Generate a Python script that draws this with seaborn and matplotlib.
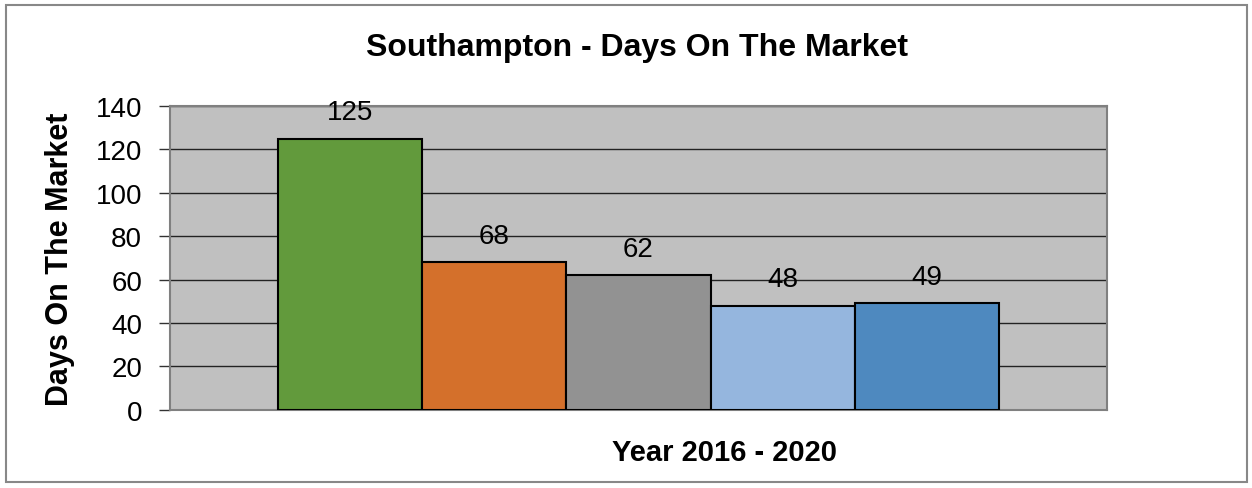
import matplotlib
matplotlib.use("Agg")
import matplotlib.pyplot as plt
import seaborn as sns
from matplotlib.patches import Rectangle

years = ["2016", "2017", "2018", "2019", "2020"]
days = [125, 68, 62, 48, 49]
colors = ["#629A3C", "#D4702B", "#929292", "#95B6DE", "#4E89BF"]
yticks = [0, 20, 40, 60, 80, 100, 120, 140]

sns.set_style("white")
plt.rcParams["font.family"] = ["Liberation Sans", "DejaVu Sans"]
plt.rcParams["text.color"] = "black"
plt.rcParams["axes.labelcolor"] = "black"
plt.rcParams["ytick.color"] = "black"

fig = plt.figure(figsize=(12.52, 4.89), dpi=100)
ax = fig.add_axes([170 / 1252, 1 - 410.7 / 489, 937 / 1252, 303.7 / 489])

sns.barplot(x=years, y=days, hue=years, palette=colors, width=1, saturation=1,
            legend=False, edgecolor="black", linewidth=1.5, ax=ax, zorder=3)

ax.set_facecolor("#C0C0C0")
ax.set_xlim(-1.25, 5.25)
ax.set_ylim(0, 140)
ax.set_yticks(yticks)
ax.set_yticklabels([str(t) for t in yticks], fontsize=20)
ax.set_xticks([])
ax.tick_params(axis="y", length=8, width=1, color="#333333", pad=12, left=True)
ax.yaxis.grid(True, color="#222222", linewidth=1, zorder=1)
ax.set_axisbelow(True)
for s in ax.spines.values():
    s.set_color("#808080")
    s.set_linewidth(1.5)

for i, v in enumerate(days):
    ax.annotate(str(v), (i, v), xytext=(0, 19), textcoords="offset points",
                ha="center", va="center", fontsize=20, zorder=4)

ax.set_ylabel("Days On The Market", fontsize=22, fontweight="bold",
              va="center")
ax.yaxis.set_label_coords((60 - 170) / 937, 0.5)
ax.set_xlabel("Year 2016 - 2020", fontsize=21, fontweight="bold", va="center")
ax.xaxis.set_label_coords((724 - 170) / 937, (410.7 - 453) / 303.7)
fig.text(637 / 1252, 1 - 48 / 489, "Southampton - Days On The Market",
         ha="center", va="center", fontsize=23, fontweight="bold")

fig.patches.append(Rectangle((6 / 1252, 6 / 489), 1241 / 1252, 477 / 489,
                             transform=fig.transFigure, fill=False,
                             edgecolor="#888888", linewidth=1.5))

fig.savefig("out.png", dpi=100)
